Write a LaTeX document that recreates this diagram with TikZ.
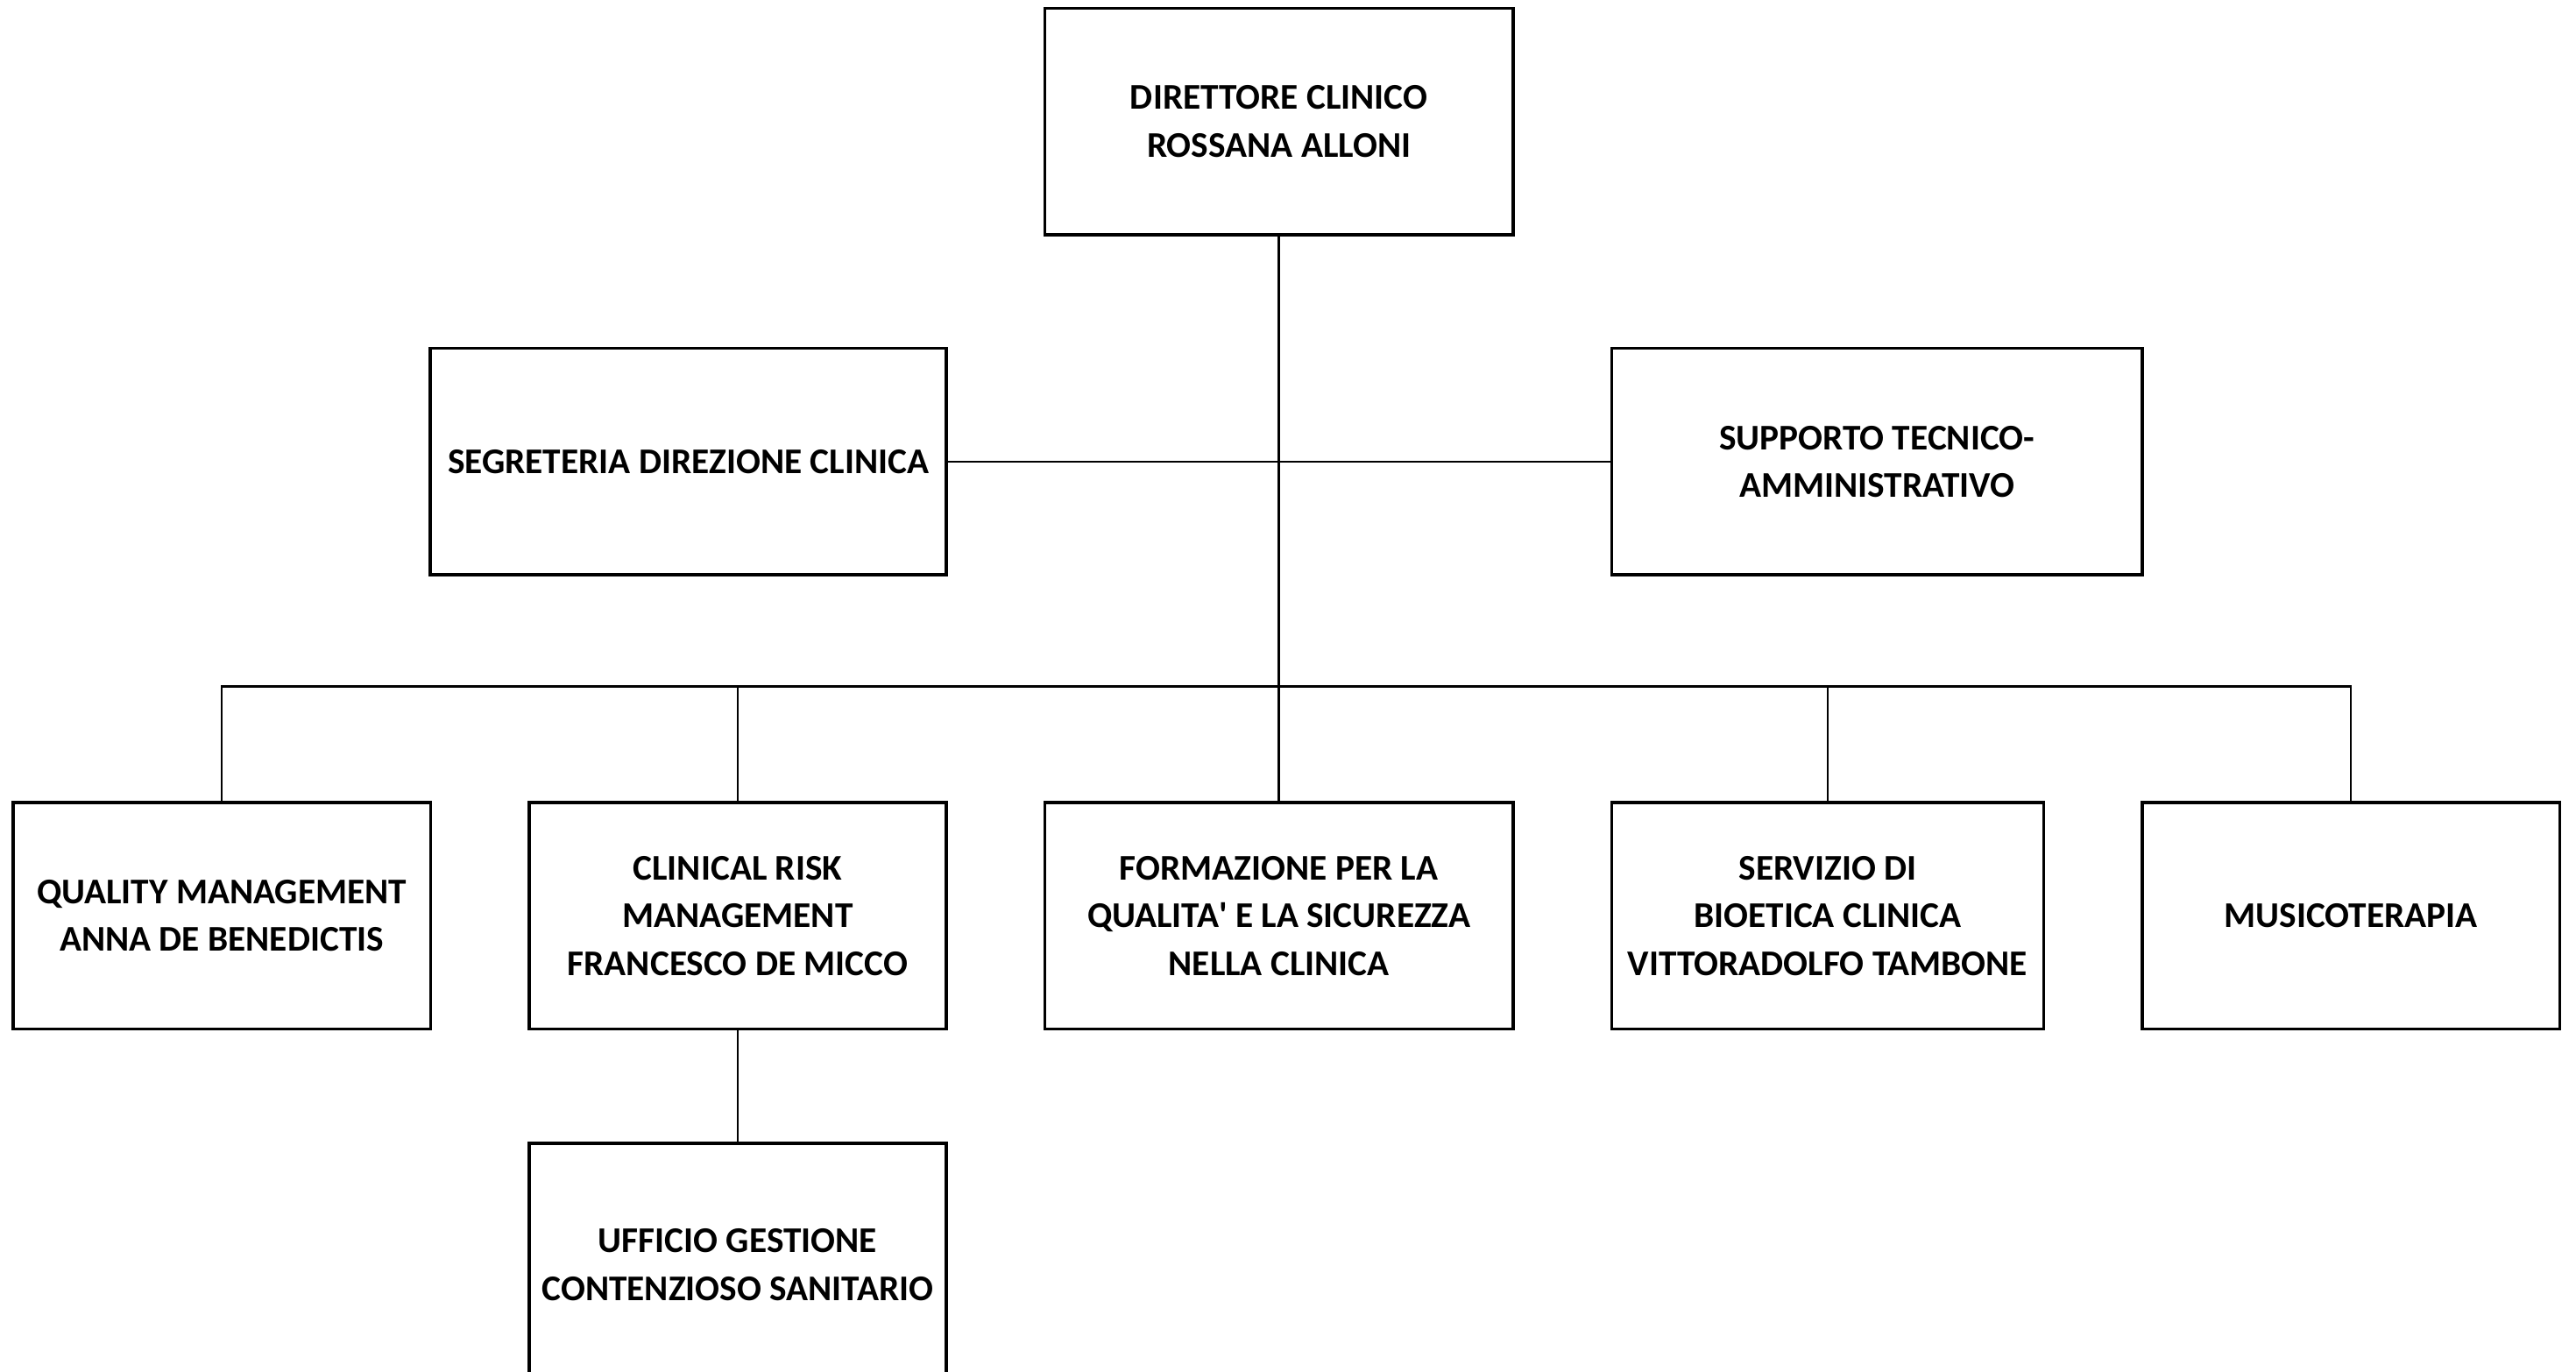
\documentclass[tikz,border=0pt]{standalone}
\usepackage{fontspec}
\setmainfont{Carlito}

\begin{document}
\begin{tikzpicture}[x=0.015cm, y=-0.015cm, line width=0.6pt,
  box/.style={draw, line width=0.8pt, minimum height=2.07cm, align=center,
    inner sep=0pt, font=\fontsize{9.4}{12.4}\selectfont\bfseries}]

\useasboundingbox (0,0) rectangle (1568,835);

\node[box, minimum width=4.275cm] (dir) at (778.5,74) {DIRETTORE CLINICO\\ROSSANA ALLONI};

\node[box, minimum width=4.71cm] (segr) at (419,281) {SEGRETERIA DIREZIONE CLINICA};
\node[box, minimum width=4.845cm] (supp) at (1142.5,281) {SUPPORTO TECNICO-\\AMMINISTRATIVO};

\node[box, minimum width=3.81cm] (qual) at (135,557.5) {QUALITY MANAGEMENT\\ANNA DE BENEDICTIS};
\node[box, minimum width=3.81cm] (risk) at (449,557.5) {CLINICAL RISK\\MANAGEMENT\\FRANCESCO DE MICCO};
\node[box, minimum width=4.275cm] (form) at (778.5,557.5) {FORMAZIONE PER LA\\QUALITA\textquotesingle{} E LA SICUREZZA\\NELLA CLINICA};
\node[box, minimum width=3.945cm] (serv) at (1112.5,557.5) {SERVIZIO DI\\BIOETICA CLINICA\\VITTORADOLFO TAMBONE};
\node[box, minimum width=3.81cm] (musi) at (1431,557.5) {MUSICOTERAPIA};

\node[box, minimum width=3.81cm, minimum height=2.22cm] (uff) at (449,770) {UFFICIO GESTIONE\\CONTENZIOSO SANITARIO};

\coordinate (bus) at (0,418);

\draw (dir.south) -- (form.north);
\draw (segr.east) -- (supp.west);
\draw (qual.north) |- (bus -| musi.north) -- (musi.north);
\foreach \n in {risk,serv}
  \draw (\n.north) -- (\n.north |- bus);
\draw (risk.south) -- (uff.north);

\end{tikzpicture}
\end{document}
